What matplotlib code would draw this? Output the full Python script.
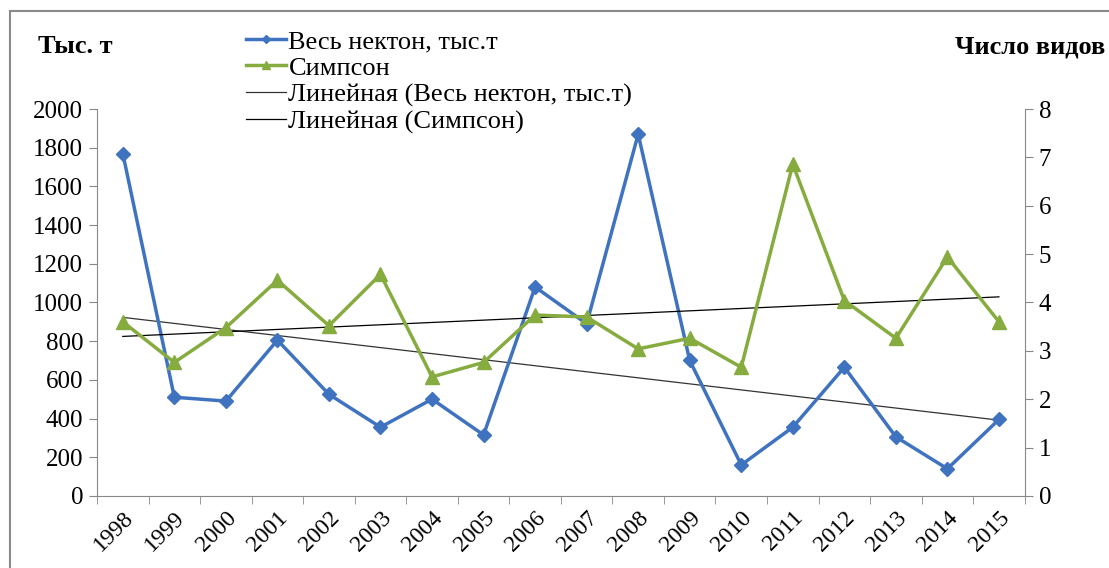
import numpy as np
import matplotlib.pyplot as plt
from matplotlib.patches import Rectangle

plt.rcParams['font.family'] = ['Liberation Serif', 'DejaVu Serif']

years = [str(y) for y in range(1998, 2016)]
nekton = [1770, 510, 490, 805, 525, 355, 500, 315, 1080, 890, 1870, 700, 160, 355, 665, 305, 140, 395]
simpson = [3.6, 2.76, 3.48, 4.46, 3.52, 4.58, 2.46, 2.76, 3.74, 3.7, 3.04, 3.26, 2.66, 6.86, 4.04, 3.26, 4.94, 3.6]

x = np.arange(len(years))

fig = plt.figure(figsize=(11.09, 5.68), dpi=100)
fig.patches.append(Rectangle((0.009, -0.01), 1.0, 0.99, transform=fig.transFigure,
                             fill=False, edgecolor='#8a8a8a', linewidth=1.5))
ax = fig.add_axes([0.0875, 0.127, 0.8365, 0.681])
ax2 = ax.twinx()

l1, = ax.plot(x, nekton, color='#3f73c0', marker='D', markersize=7, linewidth=2.5,
              label='Весь нектон, тыс.т', zorder=3)
l2, = ax2.plot(x, simpson, color='#86ab3e', marker='^', markersize=10, linewidth=2.5,
               label='Симпсон', zorder=3)

# linear trends
k1 = np.polyfit(x, nekton, 1)
t1, = ax.plot(x, np.polyval(k1, x), color='#333333', linewidth=0.9,
              label='Линейная (Весь нектон, тыс.т)')
k2 = np.polyfit(x, simpson, 1)
t2, = ax2.plot(x, np.polyval(k2, x), color='black', linewidth=0.9,
               label='Линейная (Симпсон)')

ax.set_xlim(-0.5, len(years) - 0.5)
ax.set_ylim(0, 2000)
ax2.set_ylim(0, 8)
ax.set_yticks(range(0, 2001, 200))
ax2.set_yticks(range(0, 9))
ax.set_xticks(x)
ax.set_xticklabels(years, rotation=45, ha='right', rotation_mode='anchor')
ax.set_xticks(np.arange(-0.5, len(years)), minor=True)
ax.tick_params(axis='x', which='major', length=0, labelsize=17, pad=8)
ax.tick_params(axis='x', which='minor', length=6, color='#888888')
ax.tick_params(axis='y', labelsize=18, length=6, color='#888888', pad=4)
ax2.tick_params(axis='y', labelsize=18, length=6, color='#888888', pad=4)

for a in (ax, ax2):
    for s in a.spines.values():
        s.set_visible(False)
ax.spines['left'].set_visible(True)
ax.spines['left'].set_color('#888888')
ax2.spines['right'].set_visible(True)
ax2.spines['right'].set_color('#888888')
ax.spines['bottom'].set_visible(True)
ax.spines['bottom'].set_color('#888888')

fig.text(0.034, 0.918, 'Тыс. т', fontsize=19, fontweight='bold', va='center')
fig.text(0.997, 0.918, 'Число видов', fontsize=19, fontweight='bold', va='center', ha='right')

fig.legend(handles=[l1, l2, t1, t2], loc='upper left', bbox_to_anchor=(0.222, 0.948),
           frameon=False, fontsize=19, handlelength=1.5, handletextpad=0.1,
           labelspacing=0.12, borderaxespad=0, borderpad=0, markerscale=0.6)

fig.savefig('out.png', dpi=100)
